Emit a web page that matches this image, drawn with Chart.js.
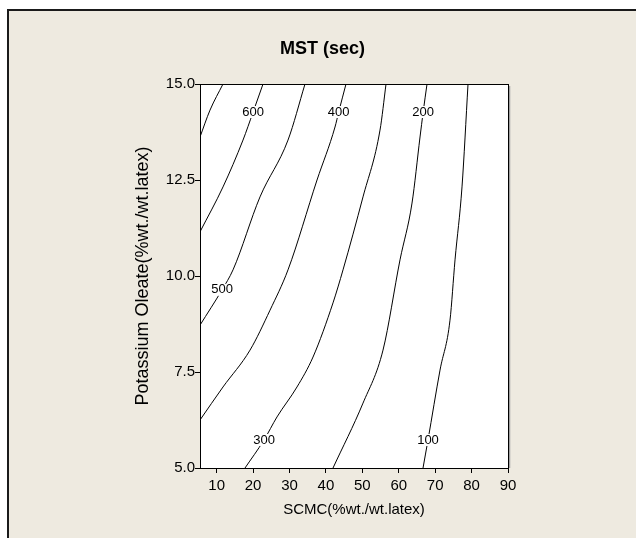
<!DOCTYPE html>
<html>
<head>
<meta charset="utf-8">
<script src="https://cdn.jsdelivr.net/npm/chart.js@4/dist/chart.umd.min.js"></script>
<style>
  html, body { margin: 0; padding: 0; background: #ffffff; }
  #frame {
    position: absolute; left: 7px; top: 9px; width: 629px; height: 529px;
    border-left: 2px solid #1a1a1a; border-top: 2px solid #1a1a1a;
    background: #eeeae0; overflow: hidden;
  }
  #chart { display: block; }
</style>
</head>
<body>
<div id="frame"><canvas id="chart" width="627" height="527"></canvas></div>
<script>
// contour levels, MST (sec)
const levels = [700, 600, 500, 400, 300, 200, 100];

// points (SCMC, Potassium Oleate)
const xs700 = [5.41, 8.16, 11.73];
const ys700 = [13.62, 14.32, 15.0];
const xs600 = [5.41, 11.73, 17.22, 20.0, 22.72];
const ys600 = [11.15, 12.32, 13.54, 14.27, 15.0];
const xs500 = [5.41, 11.46, 14.48, 21.89, 29.58, 34.25];
const ys500 = [8.72, 9.64, 10.16, 12.06, 13.54, 15.0];
const xs400 = [5.41, 11.73, 19.15, 24.64, 29.58, 37.55, 42.49, 43.5, 45.51];
const ys400 = [6.25, 7.11, 8.07, 9.11, 10.16, 12.5, 13.88, 14.27, 15.0];
const xs300 = [17.77, 22.99, 26.56, 32.05, 36.45, 41.94, 44.69, 50.18, 54.85, 56.5];
const ys300 = [5.0, 5.73, 6.33, 7.11, 7.89, 9.3, 10.16, 12.06, 13.8, 15.0];
const xs200 = [41.94, 50.18, 55.67, 60.34, 63.64, 65.84, 66.7, 67.76];
const ys200 = [5.0, 6.69, 8.07, 10.42, 11.9, 13.62, 14.27, 15.0];
const xs100 = [66.66, 68.03, 71.33, 74.07, 75.45, 77.37, 79.02];
const ys100 = [5.0, 5.73, 7.55, 8.85, 10.42, 12.32, 15.0];

// inline contour labels
const labelText = ['600', '400', '200', '500', '300', '100'];
const labelX = [20.0, 43.5, 66.7, 11.46, 22.99, 68.03];
const labelY = [14.27, 14.27, 14.27, 9.64, 5.73, 5.73];

// axes
const xMin = 5.41, xMax = 90;
const yMin = 5, yMax = 15;
const xTicks = [10, 20, 30, 40, 50, 60, 70, 80, 90];
const yTicks = [5.0, 7.5, 10.0, 12.5, 15.0];

const lineXs = [xs700, xs600, xs500, xs400, xs300, xs200, xs100];
const lineYs = [ys700, ys600, ys500, ys400, ys300, ys200, ys100];

const FONT = '"Liberation Sans", Arial, sans-serif';

const datasets = levels.map((lvl, i) => ({
  label: String(lvl),
  data: lineXs[i].map((x, j) => ({ x: x, y: lineYs[i][j] })),
  borderColor: '#000000',
  borderWidth: 1,
  pointRadius: 0,
  fill: false,
  cubicInterpolationMode: 'monotone'
}));

// white plot area + frame + contour labels
const plotFrame = {
  id: 'plotFrame',
  beforeDatasetsDraw(chart) {
    const { ctx, chartArea: a } = chart;
    ctx.save();
    ctx.fillStyle = '#ffffff';
    ctx.fillRect(a.left, a.top, a.right - a.left, a.bottom - a.top);
    ctx.restore();
  },
  afterDatasetsDraw(chart) {
    const { ctx, chartArea: a, scales } = chart;
    ctx.save();
    ctx.font = '13px ' + FONT;
    ctx.textAlign = 'center';
    ctx.textBaseline = 'middle';
    labelText.forEach((t, i) => {
      const px = scales.x.getPixelForValue(labelX[i]);
      const py = scales.y.getPixelForValue(labelY[i]);
      const w = ctx.measureText(t).width;
      ctx.fillStyle = '#ffffff';
      ctx.fillRect(px - w / 2 - 1, py - 6, w + 2, 12);
      ctx.fillStyle = '#000000';
      ctx.fillText(t, px, py);
    });
    // shadow on the right, then the box
    ctx.strokeStyle = '#a0a0a0';
    ctx.lineWidth = 1.5;
    ctx.beginPath();
    ctx.moveTo(a.right + 1.5, a.top + 2);
    ctx.lineTo(a.right + 1.5, a.bottom);
    ctx.stroke();
    ctx.strokeStyle = '#000000';
    ctx.lineWidth = 1;
    ctx.strokeRect(Math.round(a.left) + 0.5, Math.round(a.top) + 0.5,
      Math.round(a.right - a.left), Math.round(a.bottom - a.top));
    ctx.restore();
  }
};

new Chart(document.getElementById('chart'), {
  type: 'line',
  data: { datasets: datasets },
  options: {
    responsive: false,
    animation: false,
    layout: { padding: 0 },
    plugins: {
      legend: { display: false },
      tooltip: { enabled: false },
      title: {
        display: true,
        text: 'MST (sec)',
        color: '#000000',
        font: { family: FONT, size: 18, weight: 'bold' },
        padding: { top: 27.2, bottom: 24.2 }
      }
    },
    scales: {
      x: {
        type: 'linear',
        min: xMin,
        max: xMax,
        afterBuildTicks: (s) => { s.ticks = xTicks.map(v => ({ value: v })); },
        afterFit: (s) => { s.height = 70; },
        ticks: { color: '#000000', font: { family: FONT, size: 15 }, padding: 4, maxRotation: 0 },
        grid: { drawOnChartArea: false, drawTicks: true, tickLength: 5, color: '#000000' },
        border: { display: true, color: '#000000', width: 1 },
        title: {
          display: true,
          text: 'SCMC(%wt./wt.latex)',
          color: '#000000',
          font: { family: FONT, size: 15 },
          padding: { top: 0, bottom: 19.6 }
        }
      },
      y: {
        type: 'linear',
        min: yMin,
        max: yMax,
        afterBuildTicks: (s) => { s.ticks = yTicks.map(v => ({ value: v })); },
        afterFit: (s) => { s.width = 191; },
        ticks: {
          color: '#000000',
          font: { family: FONT, size: 15 },
          padding: 0,
          callback: (v) => Number(v).toFixed(1)
        },
        grid: { drawOnChartArea: false, drawTicks: true, tickLength: 5, color: '#000000' },
        border: { display: true, color: '#000000', width: 1 },
        title: {
          display: true,
          text: 'Potassium Oleate(%wt./wt.latex)',
          color: '#000000',
          font: { family: FONT, size: 18 },
          padding: { top: 123.2, bottom: 0 }
        }
      },
      // empty right-hand spacer so the title centres on the whole panel
      spacer: {
        type: 'linear',
        position: 'right',
        display: true,
        afterFit: (s) => { s.width = 128; },
        ticks: { display: false },
        grid: { display: false },
        border: { display: false }
      }
    }
  },
  plugins: [plotFrame]
});
</script>
</body>
</html>
